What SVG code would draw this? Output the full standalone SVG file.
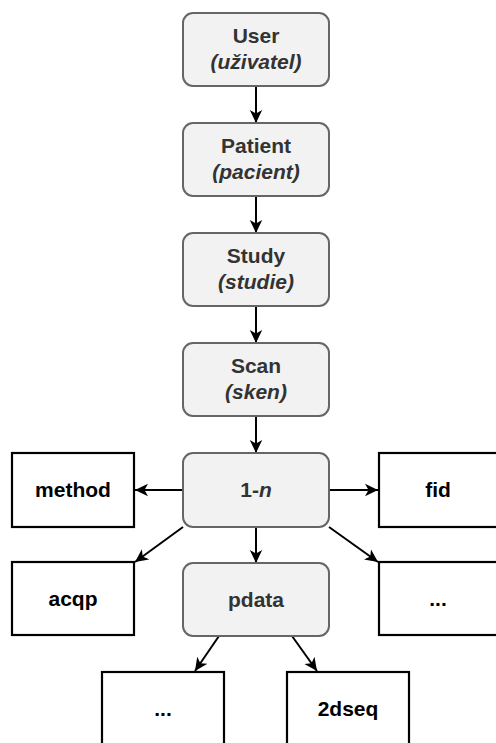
<svg xmlns="http://www.w3.org/2000/svg" width="496" height="743" viewBox="0 0 496 743">
<defs>
<marker id="arr" markerUnits="userSpaceOnUse" markerWidth="14" markerHeight="14" viewBox="0 0 14 14" refX="13" refY="7" orient="auto">
<path d="M0,0.8 L13,7 L0,13.2 L3.5,7 z" fill="#000"/>
</marker>
<style>
.g{fill:#f2f2f2;stroke:#666;stroke-width:2}
.w{fill:#fff;stroke:#000;stroke-width:2.2}
.t{font-family:"Liberation Sans",Arial,sans-serif;font-size:21px;font-weight:bold;text-anchor:middle}
.gt{fill:#333}
.wt{fill:#000}
.i{font-style:italic}
.c{stroke:#000;stroke-width:2;fill:none;marker-end:url(#arr)}
</style>
</defs>
<g id="connectors">
<line class="c" x1="256" y1="86" x2="256" y2="123"/>
<line class="c" x1="256" y1="196" x2="256" y2="233"/>
<line class="c" x1="256" y1="306" x2="256" y2="343"/>
<line class="c" x1="256" y1="416" x2="256" y2="453"/>
<line class="c" x1="183" y1="490" x2="135" y2="490"/>
<line class="c" x1="329" y1="490" x2="378" y2="490"/>
<line class="c" x1="183" y1="527" x2="135" y2="562"/>
<line class="c" x1="329" y1="527" x2="378" y2="562"/>
<line class="c" x1="256" y1="527" x2="256" y2="563"/>
<line class="c" x1="219" y1="636" x2="195" y2="671"/>
<line class="c" x1="292" y1="636" x2="317" y2="671"/>
</g>
<g id="user">
<rect class="g" x="183" y="13" width="146" height="73" rx="10"/>
<text class="t gt" x="256" y="43">User</text>
<text class="t gt i" x="256" y="69">(uživatel)</text>
</g>
<g id="patient">
<rect class="g" x="183" y="123" width="146" height="73" rx="10"/>
<text class="t gt" x="256" y="153">Patient</text>
<text class="t gt i" x="256" y="179">(pacient)</text>
</g>
<g id="study">
<rect class="g" x="183" y="233" width="146" height="73" rx="10"/>
<text class="t gt" x="256" y="263">Study</text>
<text class="t gt i" x="256" y="289">(studie)</text>
</g>
<g id="scan">
<rect class="g" x="183" y="343" width="146" height="73" rx="10"/>
<text class="t gt" x="256" y="373">Scan</text>
<text class="t gt i" x="256" y="399">(sken)</text>
</g>
<g id="n">
<rect class="g" x="183" y="453" width="146" height="74" rx="10"/>
<text class="t gt" x="256" y="497">1-<tspan class="i">n</tspan></text>
</g>
<g id="pdata">
<rect class="g" x="183" y="563" width="146" height="73" rx="10"/>
<text class="t gt" x="256" y="607">pdata</text>
</g>
<g id="method">
<rect class="w" x="12" y="453" width="122" height="74"/>
<text class="t wt" x="73" y="497">method</text>
</g>
<g id="fid">
<rect class="w" x="379" y="453" width="122" height="74"/>
<text class="t wt" x="438" y="497">fid</text>
</g>
<g id="acqp">
<rect class="w" x="12" y="562" width="122" height="73"/>
<text class="t wt" x="73" y="606">acqp</text>
</g>
<g id="more1">
<rect class="w" x="379" y="562" width="122" height="73"/>
<text class="t wt" x="438" y="606">...</text>
</g>
<g id="more2">
<rect class="w" x="102" y="672" width="122" height="73"/>
<text class="t wt" x="163" y="716">...</text>
</g>
<g id="dseq">
<rect class="w" x="287" y="672" width="122" height="73"/>
<text class="t wt" x="348" y="716">2dseq</text>
</g>
</svg>
